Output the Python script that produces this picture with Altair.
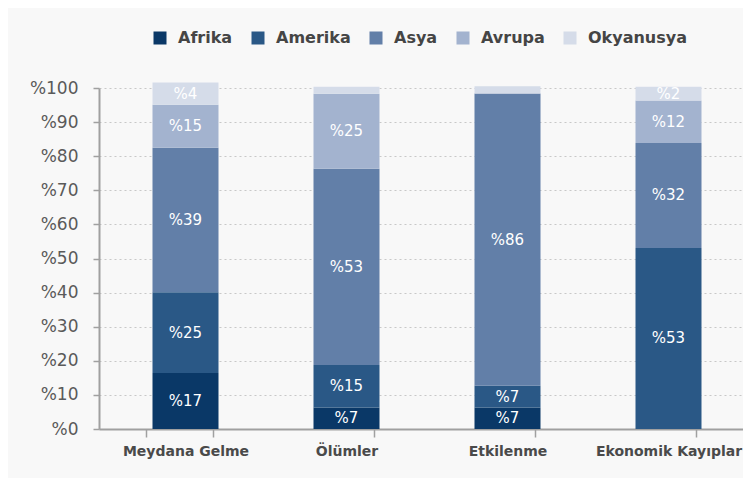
import altair as alt
import pandas as pd

categories = ["Meydana Gelme", "Ölümler", "Etkilenme", "Ekonomik Kayıplar"]
regions = ["Afrika", "Amerika", "Asya", "Avrupa", "Okyanusya"]

# segment heights as drawn (percent)
afrika = [16.4, 6.3, 6.3, 0.0]
amerika = [23.7, 12.5, 6.4, 53.1]
asya = [42.4, 57.5, 85.7, 30.8]
avrupa = [12.6, 22.0, 0.0, 12.4]
okyanusya = [6.5, 2.1, 2.1, 4.1]

# printed labels
afrika_lbl = ["%17", "%7", "%7", ""]
amerika_lbl = ["%25", "%15", "%7", "%53"]
asya_lbl = ["%39", "%53", "%86", "%32"]
avrupa_lbl = ["%15", "%25", "", "%12"]
okyanusya_lbl = ["%4", "", "", "%2"]

y_ticks = [0, 10, 20, 30, 40, 50, 60, 70, 80, 90, 100]

bar_colors = ["#0a3867", "#2a5886", "#627fa8", "#a3b3cf", "#d5dce9"]

vals = [afrika, amerika, asya, avrupa, okyanusya]
lbls = [afrika_lbl, amerika_lbl, asya_lbl, avrupa_lbl, okyanusya_lbl]
rows = []
for ri, r in enumerate(regions):
    for ci, c in enumerate(categories):
        rows.append({"cat": c, "region": r, "order": ri,
                     "value": vals[ri][ci], "label": lbls[ri][ci]})
df = pd.DataFrame(rows)

FONT = "DejaVu Sans"
SHIFT = 6

base = alt.Chart(df).transform_stack(
    stack="value", groupby=["cat"], as_=["v0", "v1"],
    sort=[alt.SortField("order", order="ascending")]
).transform_calculate(mid="(datum.v0 + datum.v1) / 2")

x_scale = alt.Scale(paddingInner=0.59, paddingOuter=0.295)
y_scale = alt.Scale(domain=[0, 100], nice=False)

x_axis = alt.Axis(title=None, tickBand="extent", labelAngle=0,
                  labelFont=FONT, labelFontSize=14, labelFontWeight="bold",
                  labelColor="#4a4a4a", labelPadding=7, labelOffset=SHIFT,
                  domainColor="#a0a0a0", domainWidth=2,
                  tickColor="#a0a0a0", tickWidth=1.5, tickSize=8,
                  grid=False)
y_axis = alt.Axis(title=None, values=y_ticks, labelOverlap=False,
                  labelExpr="'%' + datum.value",
                  labelFont=FONT, labelFontSize=17, labelColor="#5a5a5a",
                  labelPadding=15,
                  domainColor="#a0a0a0", domainWidth=2,
                  tickColor="#a0a0a0", tickWidth=1.5, tickSize=6,
                  grid=True, gridColor="#c8c8c8", gridDash=[2, 3],
                  gridWidth=1)

bars = base.mark_bar(xOffset=SHIFT).encode(
    x=alt.X("cat:N", sort=categories, scale=x_scale, axis=x_axis),
    y=alt.Y("v0:Q", scale=y_scale, axis=y_axis),
    y2="v1:Q",
    color=alt.Color("region:N", sort=regions,
                    scale=alt.Scale(domain=regions, range=bar_colors),
                    legend=alt.Legend(title=None, orient="none", direction="horizontal",
                                      legendX=53, legendY=-58,
                                      symbolType="square", symbolSize=169,
                                      symbolStrokeWidth=0, symbolOpacity=1,
                                      labelFont=FONT, labelFontSize=16,
                                      labelFontWeight="bold", labelColor="#454545",
                                      labelOffset=10, columnPadding=17)),
)

texts = base.transform_filter("datum.label != ''").mark_text(
    color="white", font=FONT, fontSize=15, baseline="middle", xOffset=SHIFT
).encode(
    x=alt.X("cat:N", sort=categories, scale=x_scale, axis=x_axis),
    y=alt.Y("mid:Q", scale=y_scale, axis=y_axis),
    text="label:N",
)

chart = alt.layer(bars, texts).properties(
    width=644, height=341,
    padding={"left": 91, "top": 80, "right": 0, "bottom": 49},
    autosize="none",
    background="#f8f8f8",
).configure_view(stroke=None)

chart.save("out.html", embed_options={"renderer": "svg", "actions": False})
